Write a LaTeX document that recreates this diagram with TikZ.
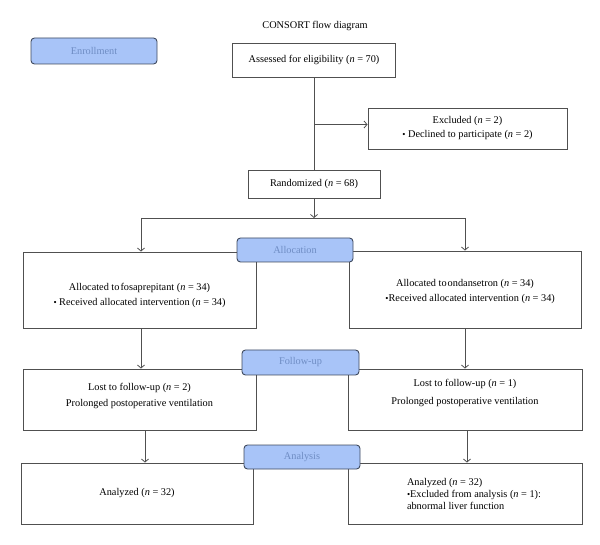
\documentclass[tikz,border=0pt]{standalone}
\usepackage{fontspec}
\setmainfont{Liberation Serif}
\usetikzlibrary{arrows.meta}
\definecolor{phasefill}{HTML}{A8C4F8}
\definecolor{phaseborder}{HTML}{3F4A5E}
\definecolor{phasetext}{HTML}{6F8DC4}
\definecolor{boxline}{HTML}{505050}
\newcommand{\fs}{\fontsize{10.3}{15}\selectfont}
\newcommand{\nn}{{\itshape n}}
\begin{document}
\begin{tikzpicture}[x=1pt,y=-1pt,
  flowbox/.style={draw=boxline, line width=0.9pt, fill=white, inner sep=2pt, align=center, font=\fs},
  boxtext/.style={align=center, font=\fs, inner sep=0pt},
  phase/.style={draw=phaseborder, fill=phasefill, rounded corners=3.5pt, line width=0.9pt, text=phasetext, font=\fs, inner sep=0pt},
  arr/.style={draw=boxline, line width=0.8pt, -{Straight Barb[length=3pt,width=7pt]}},
  conn/.style={draw=boxline, line width=0.8pt}]
\useasboundingbox (0,0) rectangle (600,545);
\node[font=\fs] (title) at (315,26) {CONSORT flow diagram};
\node[phase, minimum width=126pt, minimum height=26pt] (enroll) at (94,51) {Enrollment};
\node[flowbox, minimum width=163pt, minimum height=34pt] (assess) at (314,60) {Assessed for eligibility (\nn{} = 70)};
\node[flowbox, minimum width=199pt, minimum height=41pt, font=\fontsize{10.3}{14}\selectfont] (excl) at (467.5,128.5) {Excluded (\nn{} = 2)\\ {\small •} Declined to participate (\nn{} = 2)};
\node[flowbox, minimum width=132pt, minimum height=28pt] (rand) at (314,184) {Randomized (\nn{} = 68)};
\coordinate (split) at (314,218);
\coordinate (splitL) at (141,218);
\coordinate (splitR) at (465,218);
\node[flowbox, minimum width=233pt, minimum height=76pt,
  label={[boxtext, yshift=-5pt]center:Allocated to\kern1pt fosaprepitant (\nn{} = 34)\\ {\small •} Received allocated intervention (\nn{} = 34)}] (allocL) at (139.5,290) {};
\node[flowbox, minimum width=232pt, minimum height=77pt,
  label={[boxtext, yshift=-2.5pt]center:Allocated to\kern1pt ondansetron (\nn{} = 34)\\ \quad{\small •}Received allocated intervention (\nn{} = 34)}] (allocR) at (465,289.5) {};
\node[flowbox, minimum width=233pt, minimum height=61pt,
  label={[boxtext, yshift=3.5pt, font=\fontsize{10.3}{16}\selectfont]center:Lost to follow-up (\nn{} = 2)\\ Prolonged postoperative ventilation}] (follL) at (139.5,399.5) {};
\node[flowbox, minimum width=234pt, minimum height=61pt,
  label={[boxtext, yshift=6.5pt, font=\fontsize{10.3}{18}\selectfont]center:Lost to follow-up (\nn{} = 1)\\ Prolonged postoperative ventilation}] (follR) at (465,399.5) {};
\node[flowbox, minimum width=232pt, minimum height=61pt] (anaL) at (137,493.5) {Analyzed (\nn{} = 32)};
\node[flowbox, minimum width=234pt, minimum height=61pt,
  label={[boxtext, align=left, xshift=9pt, font=\fontsize{10.3}{12}\selectfont]center:Analyzed (\nn{} = 32)\\ {\small •}Excluded from analysis (\nn{} = 1):\\ abnormal liver function}] (anaR) at (465,493.5) {};
% phase labels on top
\node[phase, minimum width=116pt, minimum height=24pt] (allocP) at (295,250) {Allocation};
\node[phase, minimum width=117pt, minimum height=25pt] (follP) at (300.5,362.5) {Follow-up};
\node[phase, minimum width=116pt, minimum height=24pt] (anaP) at (302,457) {Analysis};
% connectors
\draw[conn] (assess.south) -- (assess.south |- rand.north);
\draw[arr] ([yshift=4pt]assess.south |- excl.west) -- ([yshift=4pt]excl.west);
\draw[arr] (rand.south) -- (split);
\draw[conn] (splitL) -- (splitR);
\draw[arr] (splitL) -- (splitL |- allocL.north);
\draw[arr] (splitR) -- (splitR |- allocR.north);
\draw[arr] (splitL |- allocL.south) -- (splitL |- follL.north);
\draw[arr] (splitR |- allocR.south) -- (splitR |- follR.north);
\draw[arr] ([xshift=5.5pt]follL.south) -- ([xshift=5.5pt]follL.south |- anaL.north);
\draw[arr] ([xshift=2pt]follR.south) -- ([xshift=2pt]follR.south |- anaR.north);
\end{tikzpicture}
\end{document}
